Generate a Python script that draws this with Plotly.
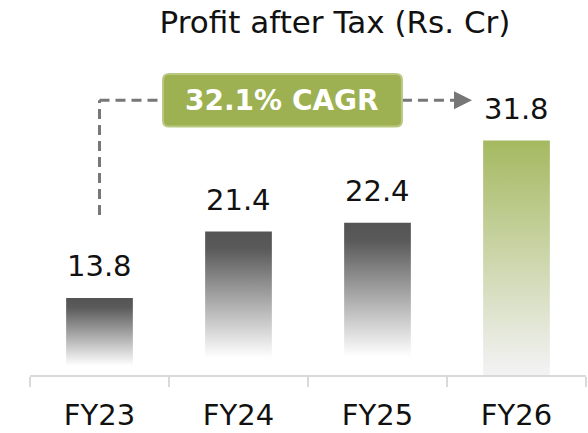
import plotly.graph_objects as go

# data
years = ["FY23", "FY24", "FY25", "FY26"]
profit = [13.8, 21.4, 22.4, 31.8]
value_labels = ["13.8", "21.4", "22.4", "31.8"]
cagr_label = "32.1% CAGR"
title_text = "Profit after Tax (Rs. Cr)"

FONT = "DejaVu Sans"
DASH = "#777777"
bar_colors = ["#7a7a7a", "#7a7a7a", "#7a7a7a", "#c4d08f"]

fig = go.Figure(go.Bar(
    x=years,
    y=profit,
    width=0.48,
    marker=dict(color=bar_colors, line_width=0),
    hoverinfo="skip",
))

# value labels above the bars
for yr, v, lab in zip(years, profit, value_labels):
    fig.add_annotation(
        x=yr, y=v, text=lab, showarrow=False,
        yanchor="bottom", yshift=13,
        font=dict(family=FONT, size=29, color="#111111"),
    )

# CAGR connector (dashed elbow + arrow head)
line_y = 36.4
box_x0, box_x1 = 0.457, 2.176
box_y0, box_y1 = 33.4, 39.4
dash_line = dict(color=DASH, width=3, dash="10px,6px")
fig.add_shape(type="line", xref="x", yref="y", x0=0, x1=0, y0=23.3, y1=line_y, line=dash_line)
fig.add_shape(type="line", xref="x", yref="y", x0=0, x1=box_x0, y0=line_y, y1=line_y, line=dash_line)
fig.add_shape(type="line", xref="x", yref="y", x0=box_x1, x1=2.58, y0=line_y, y1=line_y, line=dash_line)
fig.add_annotation(
    x=2.68, y=line_y, ax=2.58, ay=line_y, axref="x", ayref="y",
    text="", showarrow=True, arrowhead=2, arrowsize=1.2, arrowwidth=3,
    arrowcolor=DASH,
)

# rounded green box
rx, ry = 0.045, 0.7
box_path = (
    f"M {box_x0 + rx} {box_y1} L {box_x1 - rx} {box_y1} "
    f"Q {box_x1} {box_y1} {box_x1} {box_y1 - ry} "
    f"L {box_x1} {box_y0 + ry} Q {box_x1} {box_y0} {box_x1 - rx} {box_y0} "
    f"L {box_x0 + rx} {box_y0} Q {box_x0} {box_y0} {box_x0} {box_y0 + ry} "
    f"L {box_x0} {box_y1 - ry} Q {box_x0} {box_y1} {box_x0 + rx} {box_y1} Z"
)
fig.add_shape(type="path", xref="x", yref="y", path=box_path,
              fillcolor="#9db152", line=dict(color="#b9c880", width=2))
fig.add_annotation(
    x=(box_x0 + box_x1) / 2, y=line_y, text=cagr_label, showarrow=False,
    font=dict(family=FONT, size=28, color="white", weight="bold"),
)

fig.update_layout(
    width=588, height=433,
    margin=dict(l=30, r=2, t=60, b=58),
    paper_bgcolor="white", plot_bgcolor="white",
    showlegend=False,
    title=dict(
        text=title_text, x=335 / 588, xanchor="center",
        y=1 - 22 / 433, yanchor="middle", xref="container", yref="container",
        font=dict(family=FONT, size=31, color="#111111"),
    ),
    xaxis=dict(
        range=[-0.5, 3.5], showline=True, linecolor="#d9d9d9", linewidth=2,
        ticks="outside", tickson="boundaries", ticklen=10, tickwidth=2,
        tickcolor="#d9d9d9", showgrid=False, ticklabelstandoff=13,
        tickfont=dict(family=FONT, size=29, color="#111111"),
    ),
    yaxis=dict(range=[5, 41], visible=False, showgrid=False),
)

# vertical fade on the bars (grey ones fade to white, last one green to light grey)
fade_js = """
document.body.style.margin = '0';
var gd = document.getElementById('{plot_id}');
var ya = gd._fullLayout.yaxis;
var defs = gd.querySelector('.main-svg defs');
var ns = 'http://www.w3.org/2000/svg';
var grey = [[0, '#545454'], [0.12, '#5a5a5a'], [0.88, '#ffffff'], [1, '#ffffff']];
var green = [[0, '#a5b960'], [0.97, '#f1f1f1'], [1, '#f2f2f2']];
gd.querySelectorAll('.barlayer .point path').forEach(function(p, i) {
  var b = p.getBBox();
  var bottom = Math.min(b.y + b.height, ya._length);
  var g = document.createElementNS(ns, 'linearGradient');
  g.setAttribute('id', 'barfade' + i);
  g.setAttribute('gradientUnits', 'userSpaceOnUse');
  g.setAttribute('x1', 0); g.setAttribute('x2', 0);
  g.setAttribute('y1', b.y); g.setAttribute('y2', bottom);
  (i === 3 ? green : grey).forEach(function(s) {
    var st = document.createElementNS(ns, 'stop');
    st.setAttribute('offset', s[0]);
    st.setAttribute('stop-color', s[1]);
    g.appendChild(st);
  });
  defs.appendChild(g);
  p.style.fill = 'url(#barfade' + i + ')';
});
"""

fig.write_html("out.html", post_script=fade_js, config={"displayModeBar": False})
